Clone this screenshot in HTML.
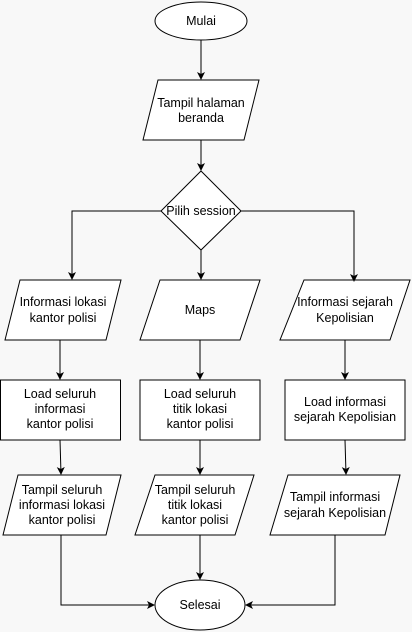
<!DOCTYPE html>
<html><head><style>
html,body{margin:0;padding:0;background:#f8f8f8;}
svg{display:block}
text{font-family:"Liberation Sans",Arial,sans-serif;font-size:12.5px;fill:#000;text-anchor:middle}
</style></head><body>
<svg width="412" height="632" viewBox="0 0 412 632" xmlns="http://www.w3.org/2000/svg">
<defs><marker id="a" markerWidth="10" markerHeight="10" refX="7" refY="4" orient="auto" markerUnits="userSpaceOnUse"><path d="M0,0 L8,4 L0,8 L2,4 Z" fill="#000"/></marker></defs>
<g fill="#fff" stroke="#000" stroke-width="1">
<ellipse cx="201" cy="21" rx="46" ry="19"/>
<polygon points="158,80 259,80 244,140 143,140"/>
<polygon points="201,171 241,211 201,250 161,211"/>
<polygon points="20,280 121,280 106,340 5,340"/>
<polygon points="160,280 260,280 240,340 140,340"/>
<polygon points="304,280 410,280 390,340 280,340"/>
<rect x="0.5" y="380" width="120" height="60"/>
<rect x="140" y="380" width="120" height="60"/>
<rect x="285" y="380" width="120" height="60"/>
<polygon points="18,475 121,475 106,535 3,535"/>
<polygon points="155,475 254,475 235,535 135,535"/>
<polygon points="288,475 400,475 385,535 270,535"/>
<ellipse cx="200" cy="605" rx="45" ry="25"/>
</g>
<g fill="none" stroke="#000" stroke-width="1" marker-end="url(#a)">
<line x1="201" y1="40" x2="201" y2="79"/>
<line x1="201" y1="140" x2="201" y2="170"/>
<polyline points="161,211 72,211 72,279"/>
<line x1="201" y1="250" x2="201" y2="279"/>
<polyline points="241,211 354,211 354,281"/>
<line x1="60" y1="340" x2="60" y2="379"/>
<line x1="200" y1="340" x2="200" y2="379"/>
<line x1="345" y1="340" x2="345" y2="379"/>
<line x1="60" y1="440" x2="61" y2="474"/>
<line x1="200" y1="440" x2="200" y2="474"/>
<line x1="345" y1="440" x2="346" y2="474"/>
<polyline points="61,535 61,605 154,605"/>
<line x1="200" y1="535" x2="200" y2="579"/>
<polyline points="335,535 335,605 246,605"/>
</g>
<text x="201" y="25">Mulai</text>
<text x="201" y="107">Tampil halaman</text><text x="201" y="122">beranda</text>
<text x="201" y="215">Pilih session</text>
<text x="63" y="306">Informasi lokasi</text><text x="63" y="322">kantor polisi</text>
<text x="200" y="314">Maps</text>
<text x="345" y="306">Informasi sejarah</text><text x="345" y="322">Kepolisian</text>
<text x="60" y="398">Load seluruh</text><text x="60" y="413">informasi</text><text x="60" y="428">kantor polisi</text>
<text x="200" y="398">Load seluruh</text><text x="200" y="413">titik lokasi</text><text x="200" y="428">kantor polisi</text>
<text x="345" y="406">Load informasi</text><text x="345" y="421">sejarah Kepolisian</text>
<text x="62" y="494">Tampil seluruh</text><text x="62" y="509">informasi lokasi</text><text x="62" y="524">kantor polisi</text>
<text x="195" y="494">Tampil seluruh</text><text x="195" y="509">titik lokasi</text><text x="195" y="524">kantor polisi</text>
<text x="335" y="501">Tampil informasi</text><text x="335" y="517">sejarah Kepolisian</text>
<text x="200" y="609">Selesai</text>
</svg>
</body></html>
